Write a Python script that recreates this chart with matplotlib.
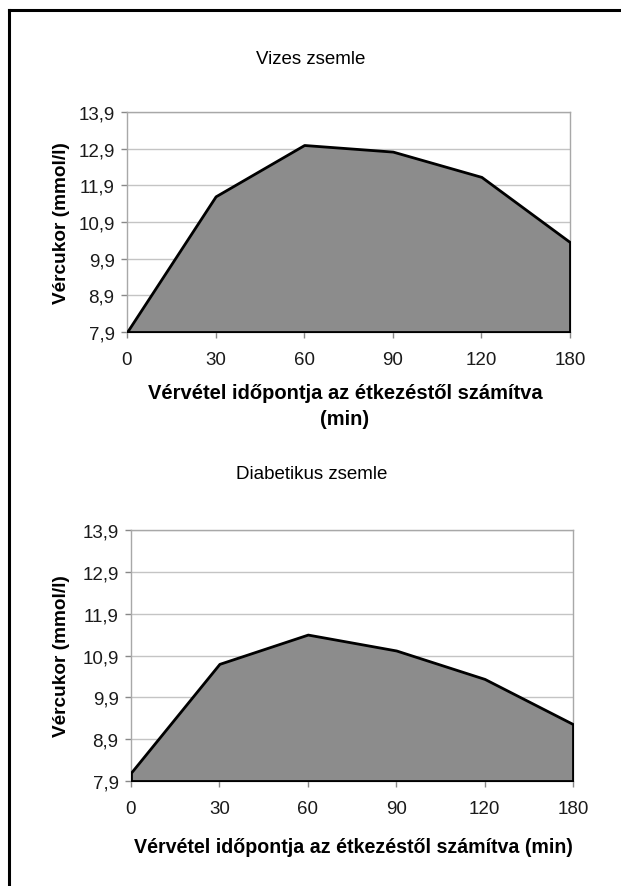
import matplotlib.pyplot as plt
from matplotlib.ticker import FixedLocator, FixedFormatter

plt.rcParams['font.family'] = ['Liberation Sans', 'DejaVu Sans']

# adatok a két grafikonhoz
times = ["0", "30", "60", "90", "120", "180"]
vizes = [7.9, 11.6, 13.0, 12.82, 12.13, 10.35]
diabetikus = [8.1, 10.7, 11.4, 11.02, 10.34, 9.26]
y_ticks = [7.9, 8.9, 9.9, 10.9, 11.9, 12.9, 13.9]
y_labels = ["7,9", "8,9", "9,9", "10,9", "11,9", "12,9", "13,9"]

W, H = 621, 887
fig = plt.figure(figsize=(W / 100, H / 100), dpi=100)


def px_axes(left, top, right, bottom):
    return fig.add_axes([left / W, 1 - bottom / H, (right - left) / W, (bottom - top) / H])


def fig_text(x, y, s, **kw):
    # x, y pixelben, bal felső saroktól
    return fig.text(x / W, 1 - y / H, s, **kw)


def draw_area(ax, values):
    xs = list(range(len(times)))
    ax.fill_between(xs, y_ticks[0], values, facecolor="#8c8c8c", edgecolor="black",
                    linewidth=2, zorder=3)
    ax.set_xlim(0, len(times) - 1)
    ax.set_ylim(y_ticks[0], y_ticks[-1])
    ax.yaxis.set_major_locator(FixedLocator(y_ticks))
    ax.yaxis.set_major_formatter(FixedFormatter(y_labels))
    ax.set_xticks(xs)
    ax.set_xticklabels(times)
    ax.grid(axis="y", color="#c4c4c4", linewidth=1, zorder=1)
    for s in ax.spines.values():
        s.set_color("#a8a8a8")
        s.set_linewidth(1)
    ax.tick_params(axis="both", labelsize=13.5, color="#888888", length=4, width=1,
                   labelcolor="#1a1a1a")
    ax.tick_params(axis="x", pad=10)
    ax.tick_params(axis="y", pad=5)


ax1 = px_axes(127, 113, 570, 333)
draw_area(ax1, vizes)
fig_text(62, 223, "Vércukor (mmol/l)", rotation=90, ha="center", va="center",
         fontsize=13.7, fontweight="bold")
fig_text(311, 64, "Vizes zsemle", ha="center", va="baseline", fontsize=13.5)
fig_text(345, 399, "Vérvétel időpontja az étkezéstől számítva",
         ha="center", va="baseline", fontsize=14.5, fontweight="bold")
fig_text(345, 425, "(min)", ha="center", va="baseline", fontsize=14.5,
         fontweight="bold")

ax2 = px_axes(131, 531, 573, 782)
draw_area(ax2, diabetikus)
fig_text(62, 656, "Vércukor (mmol/l)", rotation=90, ha="center", va="center",
         fontsize=13.7, fontweight="bold")
fig_text(312, 479, "Diabetikus zsemle", ha="center", va="baseline", fontsize=13.5)
fig_text(353, 853, "Vérvétel időpontja az étkezéstől számítva (min)",
         ha="center", va="baseline", fontsize=14.1, fontweight="bold")

# keret: csak felső és bal vonal látszik
fig.add_artist(plt.Line2D([9 / W, 9 / W], [0, 1 - 11 / H], color="black", linewidth=2.2))
fig.add_artist(plt.Line2D([9 / W, 1], [1 - 11 / H, 1 - 11 / H], color="black", linewidth=2.2))

fig.savefig("out.png", dpi=100)
